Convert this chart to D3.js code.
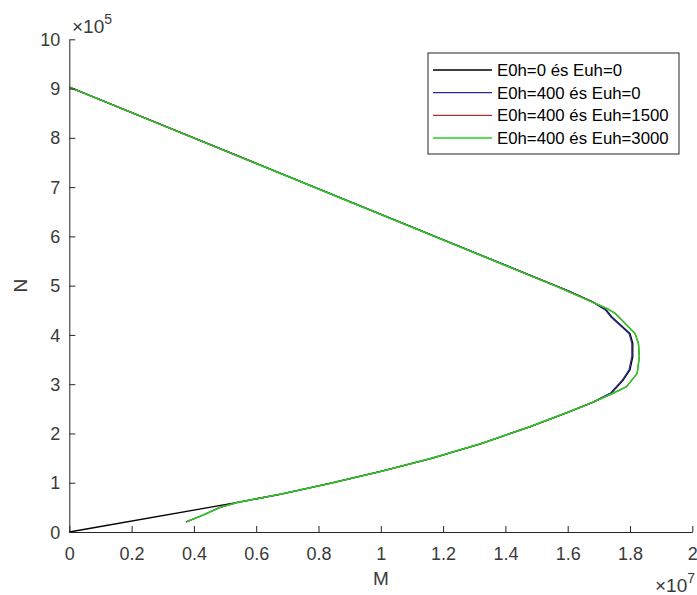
<!DOCTYPE html>
<html>
<head>
<meta charset="utf-8">
<script src="https://cdn.jsdelivr.net/npm/d3@7"></script>
<style>
  body { margin: 0; background: #fff; }
  svg { display: block; font-family: "Liberation Sans", Arial, Helvetica, sans-serif; }
</style>
</head>
<body>
<svg width="697" height="595"></svg>
<script>
// values in display units: M in 1e7, N in 1e5
var xTicks = [0, 0.2, 0.4, 0.6, 0.8, 1, 1.2, 1.4, 1.6, 1.8, 2];
var yTicks = [0, 1, 2, 3, 4, 5, 6, 7, 8, 9, 10];

var seriesNames = ["E0h=0 és Euh=0", "E0h=400 és Euh=0", "E0h=400 és Euh=1500", "E0h=400 és Euh=3000"];
var seriesColors = ["#000000", "#2b2b8c", "#a83232", "#22d022"];

var black0M = [0, 0.54, 0.68, 0.84, 1.00, 1.16, 1.32, 1.48, 1.60, 1.68, 1.74, 1.778, 1.80, 1.809, 1.809, 1.80, 1.741, 1.725, 1.68, 1.60, 0];
var black0N = [0, 0.60, 0.77, 0.99, 1.23, 1.49, 1.79, 2.14, 2.43, 2.63, 2.82, 3.08, 3.29, 3.56, 3.83, 4.03, 4.37, 4.50, 4.67, 4.90, 9.03];

var blue400M = [0.374, 0.43, 0.484, 0.54, 0.68, 0.84, 1.00, 1.16, 1.32, 1.48, 1.60, 1.68, 1.738, 1.775, 1.797, 1.806, 1.806, 1.797, 1.738, 1.722, 1.68, 1.60, 0];
var blue400N = [0.20, 0.345, 0.50, 0.60, 0.77, 0.99, 1.23, 1.49, 1.79, 2.14, 2.43, 2.63, 2.82, 3.08, 3.29, 3.56, 3.83, 4.03, 4.37, 4.50, 4.67, 4.90, 9.03];

var red1500M = [0.377, 0.43, 0.484, 0.54, 0.68, 0.84, 1.00, 1.16, 1.32, 1.48, 1.60, 1.68, 1.74, 1.789, 1.823, 1.830, 1.827, 1.816, 1.752, 1.725, 1.57, 0];
var red1500N = [0.21, 0.345, 0.50, 0.60, 0.77, 0.99, 1.23, 1.49, 1.79, 2.14, 2.43, 2.63, 2.80, 2.95, 3.22, 3.56, 3.83, 4.03, 4.44, 4.54, 4.97, 9.03];

var green3000M = [0.377, 0.43, 0.484, 0.54, 0.68, 0.84, 1.00, 1.16, 1.32, 1.48, 1.60, 1.68, 1.74, 1.789, 1.823, 1.830, 1.827, 1.816, 1.752, 1.725, 1.57, 0];
var green3000N = [0.21, 0.345, 0.50, 0.60, 0.77, 0.99, 1.23, 1.49, 1.79, 2.14, 2.43, 2.63, 2.80, 2.95, 3.22, 3.56, 3.83, 4.03, 4.44, 4.54, 4.97, 9.03];

var seriesM = [black0M, blue400M, red1500M, green3000M];
var seriesN = [black0N, blue400N, red1500N, green3000N];

var svg = d3.select("svg");
var axisColor = "#262626";
var plotLeft = 69.3, plotRight = 692.3, plotTop = 39.3, plotBottom = 532;

var x = d3.scaleLinear().domain([0, 2]).range([plotLeft, plotRight]);
var y = d3.scaleLinear().domain([0, 10]).range([plotBottom, plotTop]);

// lines, drawn in legend order so the green one ends on top
var line = d3.line()
    .x(function(d) { return x(d[0]); })
    .y(function(d) { return y(d[1]); });

seriesM.forEach(function(ms, i) {
  var pts = ms.map(function(m, j) { return [m, seriesN[i][j]]; });
  svg.append("path")
      .datum(pts)
      .attr("fill", "none")
      .attr("stroke", seriesColors[i])
      .attr("stroke-width", i == 3 ? 1.5 : 1.3)
      .attr("stroke-linejoin", "round")
      .attr("d", line);
});

// axes (matlab style: inward ticks, no box)
var xAxis = svg.append("g")
    .attr("transform", "translate(0," + plotBottom + ")")
    .call(d3.axisBottom(x).tickValues(xTicks).tickSizeInner(-6).tickSizeOuter(0)
      .tickFormat(function(d) { return d3.format("")(d); }));
xAxis.select(".domain").attr("stroke", axisColor);
xAxis.selectAll(".tick line").attr("stroke", axisColor);
xAxis.selectAll(".tick text")
    .attr("fill", "#3a3a3a")
    .attr("font-size", "18px")
    .attr("font-family", "Liberation Sans, Arial, sans-serif")
    .attr("y", 0).attr("dy", "28px");

var yAxis = svg.append("g")
    .attr("transform", "translate(" + plotLeft + ",0)")
    .call(d3.axisLeft(y).tickValues(yTicks).tickSizeInner(-6).tickSizeOuter(0));
yAxis.select(".domain").attr("stroke", axisColor);
yAxis.selectAll(".tick line").attr("stroke", axisColor);
yAxis.selectAll(".tick text")
    .attr("fill", "#3a3a3a")
    .attr("font-size", "18px")
    .attr("font-family", "Liberation Sans, Arial, sans-serif")
    .attr("x", -9).attr("dy", "0.34em");

// exponent labels
var ex5 = svg.append("text")
    .attr("x", 72).attr("y", 33)
    .attr("fill", "#3a3a3a")
    .attr("font-size", "19px");
ex5.append("tspan").text("×10");
ex5.append("tspan").attr("dy", -9).attr("font-size", "14px").text("5");

var ex7 = svg.append("text")
    .attr("x", 655).attr("y", 592)
    .attr("fill", "#3a3a3a")
    .attr("font-size", "19px");
ex7.append("tspan").text("×10");
ex7.append("tspan").attr("dy", -9).attr("font-size", "14px").text("7");

// axis labels
svg.append("text")
    .attr("x", (plotLeft + plotRight) / 2).attr("y", 585)
    .attr("text-anchor", "middle")
    .attr("fill", "#3a3a3a")
    .attr("font-size", "19px")
    .text("M");

svg.append("text")
    .attr("transform", "translate(27," + y(5) + ") rotate(-90)")
    .attr("text-anchor", "middle")
    .attr("fill", "#3a3a3a")
    .attr("font-size", "19px")
    .text("N");

// legend
var legend = svg.append("g").attr("transform", "translate(428,53)");
legend.append("rect")
    .attr("width", 251).attr("height", 101)
    .attr("fill", "#fff")
    .attr("stroke", axisColor)
    .attr("stroke-width", 1);

var items = legend.selectAll("g.item")
    .data(seriesNames)
    .enter().append("g")
    .attr("class", "item")
    .attr("transform", function(d, i) { return "translate(0," + (17 + i * 22.7) + ")"; });

items.append("line")
    .attr("x1", 5).attr("x2", 64)
    .attr("stroke", function(d, i) { return seriesColors[i]; })
    .attr("stroke-width", function(d, i) { return i == 3 ? 1.5 : 1.3; });

items.append("text")
    .attr("x", 69).attr("dy", "0.35em")
    .attr("fill", "#000")
    .attr("font-size", "16.8px")
    .text(function(d) { return d; });
</script>
</body>
</html>
